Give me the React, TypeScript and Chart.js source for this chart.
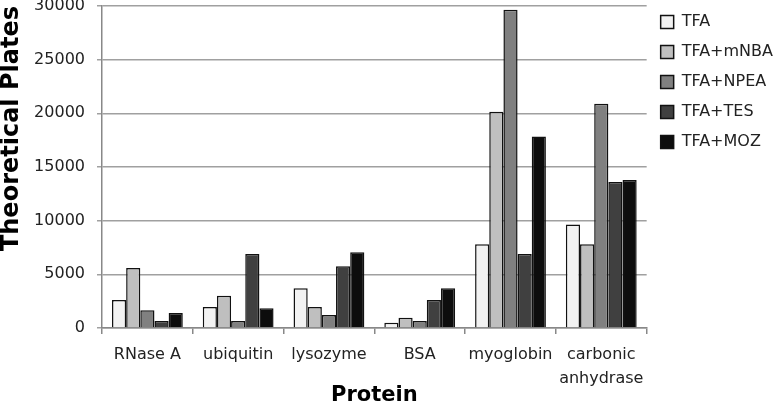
import React, { useEffect, useRef } from "react";
import { Chart, registerables } from "chart.js";

Chart.register(...registerables);

const categories: (string | string[])[] = ["RNase A", "ubiquitin", "lysozyme", "BSA", "myoglobin", ["carbonic", "anhydrase"]];
const seriesNames = ["TFA", "TFA+mNBA", "TFA+NPEA", "TFA+TES", "TFA+MOZ"];
const tfa = [2600, 1950, 3700, 500, 7800, 9650];
const tfaMNBA = [5600, 3000, 1950, 950, 20150, 7800];
const tfaNPEA = [1650, 650, 1200, 650, 29650, 20900];
const tfaTES = [650, 6900, 5750, 2600, 6900, 13600];
const tfaMOZ = [1400, 1850, 7050, 3700, 17850, 13800];
const seriesColors = ["#f2f2f2", "#bfbfbf", "#808080", "#404040", "#0d0d0d"];
const yMax = 30000;
const yStep = 5000;

export default function App() {
  const ref = useRef<HTMLCanvasElement | null>(null);
  useEffect(() => {
    if (!ref.current) return;
    const values = [tfa, tfaMNBA, tfaNPEA, tfaTES, tfaMOZ];
    const chart = new Chart(ref.current, {
      type: "bar",
      data: {
        labels: categories,
        datasets: values.map((v, i) => ({
          label: seriesNames[i],
          data: v,
          backgroundColor: seriesColors[i],
          borderColor: "#111111",
          borderWidth: 1.5,
          barPercentage: 1,
          categoryPercentage: 0.78,
        })),
      },
      options: {
        responsive: false,
        animation: false,
        devicePixelRatio: 1,
        layout: { padding: { top: 0, right: -8, bottom: 0, left: 0 } },
        plugins: {
          tooltip: { enabled: false },
          legend: {
            position: "right",
            align: "start",
            labels: {
              boxWidth: 13,
              boxHeight: 13,
              padding: 14,
              color: "#222",
              font: { family: "DejaVu Sans", size: 16 },
            },
          },
        },
        scales: {
          x: {
            grid: {
              display: true,
              drawOnChartArea: false,
              drawTicks: true,
              tickLength: 6,
              color: "#888",
              lineWidth: 1.5,
            },
            border: { color: "#888", width: 1.5 },
            ticks: {
              color: "#222",
              padding: 9,
              maxRotation: 0,
              autoSkip: false,
              font: { family: "DejaVu Sans", size: 16, lineHeight: 1.5 },
            },
            title: {
              display: true,
              text: "Protein",
              color: "#000",
              padding: { top: 0, bottom: 2 },
              font: { family: "DejaVu Sans", size: 21, weight: "bold", lineHeight: 1 },
            },
            afterFit: (scale: any) => {
              scale.height = 80;
              scale.paddingLeft = 0;
              scale.paddingRight = 0;
            },
          },
          y: {
            min: 0,
            max: yMax,
            ticks: {
              stepSize: yStep,
              color: "#222",
              padding: 12,
              font: { family: "DejaVu Sans", size: 16, lineHeight: 0.8 },
              callback: (v: any) => String(v),
            },
            grid: {
              color: "#a0a0a0",
              lineWidth: 1.5,
              tickLength: 5,
              drawTicks: true,
            },
            border: { color: "#888", width: 1.5 },
            title: {
              display: true,
              text: "Theoretical Plates",
              align: "end",
              color: "#000",
              padding: { top: 0, bottom: 0 },
              font: { family: "DejaVu Sans", size: 24, weight: "bold", lineHeight: 1 },
            },
            afterFit: (scale: any) => {
              scale.width = 102;
              scale.paddingTop = 6;
              scale.paddingBottom = 0;
            },
          },
        },
      },
    });
    return () => chart.destroy();
  }, []);
  return (
    <div style={{ position: "fixed", left: 0, top: 0, width: 775, height: 408, background: "#fff" }}>
      <canvas ref={ref} width={775} height={408} style={{ display: "block" }} />
    </div>
  );
}
